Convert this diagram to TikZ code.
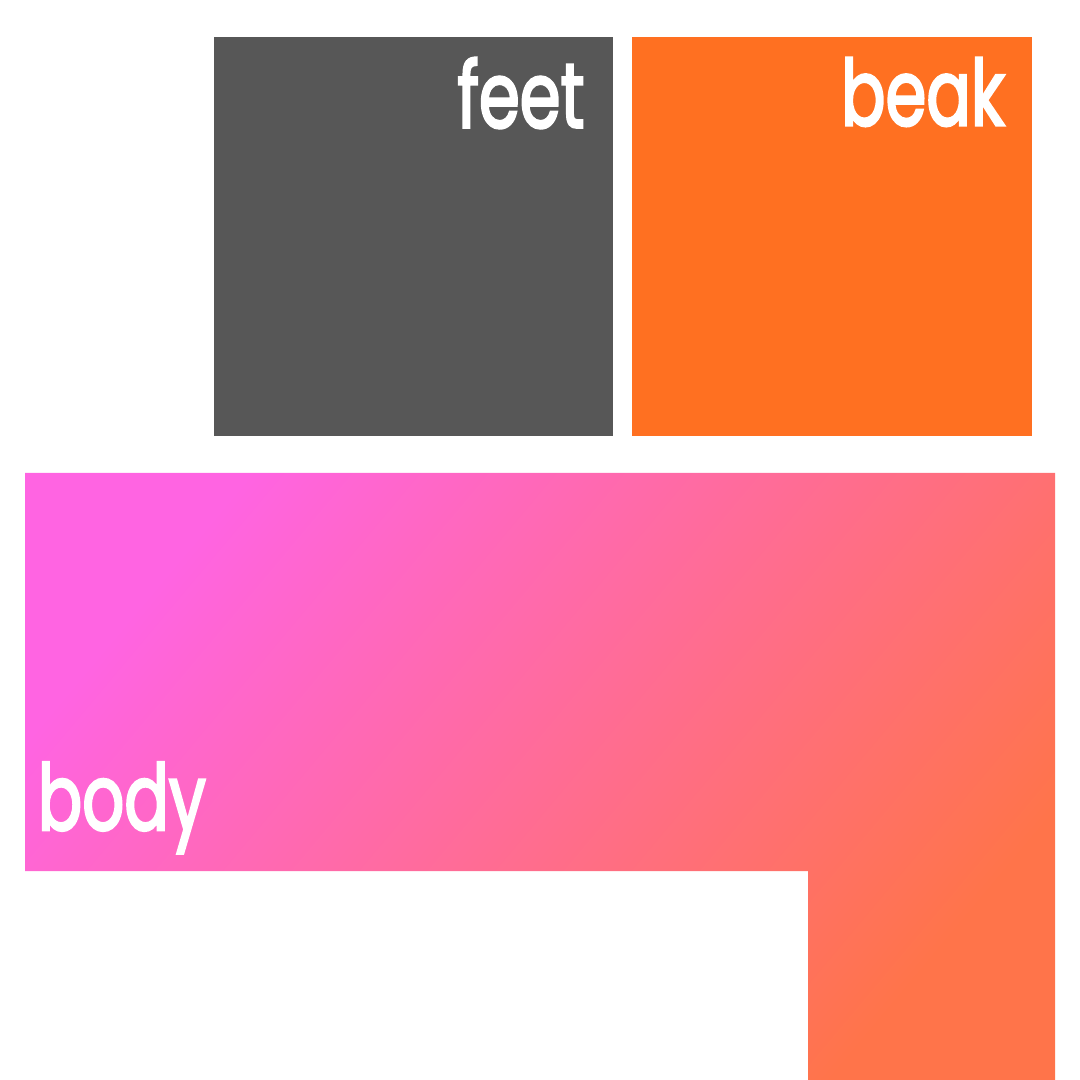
\documentclass[tikz,border=0pt]{standalone}
\usepackage{graphicx}
\usepackage{fontspec}
\setmainfont{Poppins}
\newfontfamily\tagfont{Poppins}[FakeBold=3]
\usetikzlibrary{positioning}

\definecolor{feetgray}{HTML}{575757}
\definecolor{beakorange}{HTML}{FF7021}
\definecolor{bodypink}{HTML}{FF64E2}
\definecolor{bodycoral}{HTML}{FF744A}

\newcommand{\narrowtag}[1]{\scalebox{0.72}[1]{#1}}

\begin{document}
\begin{tikzpicture}[x=0.01cm, y=-0.01cm,
    % 样式定义
    part/.style={draw=none, minimum width=3.99cm, minimum height=3.99cm,
        inner sep=0pt, outer sep=0pt, anchor=north west},
    tag/.style={text=white, font=\tagfont\fontsize{26}{26}\selectfont, inner sep=0pt}
]
    \useasboundingbox (0,0) rectangle (1080,1080);

    % ▼▼▼【上排两块】▼▼▼
    \node[part, fill=feetgray] (feet) at (214,37) {};
    \node[part, fill=beakorange, right=0.19cm of feet] (beak) {};

    \node[tag, anchor=north east] (feet_tag)
        at ([xshift=-0.28cm, yshift=-0.2cm]feet.north east) {\narrowtag{feet}};
    \node[tag, anchor=north east] (beak_tag)
        at ([xshift=-0.26cm, yshift=-0.2cm]beak.north east) {\narrowtag{beak}};

    % ▼▼▼【下方 L 形渐变块】▼▼▼
    \coordinate (body_nw) at (25,473);
    \coordinate (body_ne) at (1055,473);
    \coordinate (body_se) at (1055,1080);
    \coordinate (body_s)  at (808,1080);
    \coordinate (body_in) at (808,871);
    \coordinate (body_sw) at (25,871);

    \shade[left color=bodypink, right color=bodycoral, shading angle=50]
        (body_nw) -- (body_ne) -- (body_se) -- (body_s)
        -- (body_in) -- (body_sw) -- cycle;

    \node[tag, anchor=base west] (body_tag)
        at ([xshift=0.12cm, yshift=0.41cm]body_sw) {\narrowtag{body}};

\end{tikzpicture}
\end{document}
